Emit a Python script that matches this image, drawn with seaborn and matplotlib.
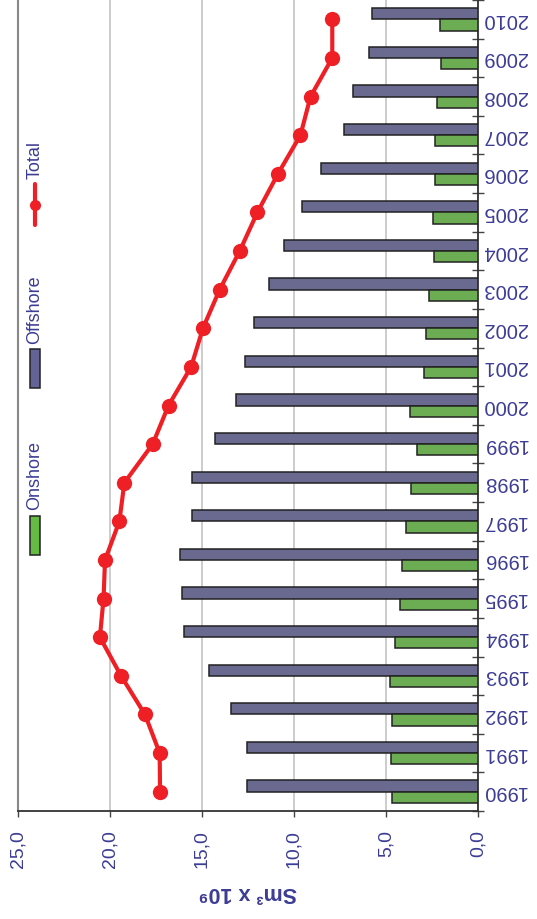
import numpy as np
import pandas as pd
import matplotlib
matplotlib.use("Agg")
import matplotlib.pyplot as plt
from matplotlib.patches import Rectangle
from matplotlib.lines import Line2D
import seaborn as sns

# Gas production per year (Sm3 x 10^9)
years = [str(y) for y in range(1990, 2011)]
onshore = [4.69, 4.73, 4.67, 4.78, 4.53, 4.26, 4.11, 3.94, 3.65, 3.33, 3.69,
           2.94, 2.82, 2.69, 2.38, 2.42, 2.33, 2.36, 2.23, 2.00, 2.09]
offshore = [12.54, 12.57, 13.40, 14.60, 16.00, 16.10, 16.19, 15.57, 15.55, 14.32, 13.13,
            12.64, 12.17, 11.36, 10.56, 9.57, 8.52, 7.29, 6.81, 5.91, 5.78]
total = [17.28, 17.30, 18.10, 19.40, 20.55, 20.35, 20.27, 19.49, 19.22, 17.68, 16.82,
         15.59, 14.95, 14.04, 12.95, 11.99, 10.87, 9.65, 9.10, 7.92, 7.92]
value_ticks = [0, 5, 10, 15, 20, 25]

text_col = '#3c3c96'
green = '#66bb44'
purple = '#636398'
red = '#ee2026'

sns.set_style('white')
plt.rcParams['font.family'] = ['Liberation Sans', 'DejaVu Sans']

df = pd.DataFrame({
    'year': years * 2,
    'value': onshore + offshore,
    'type': ['Onshore'] * len(years) + ['Offshore'] * len(years),
})

fig = plt.figure(figsize=(5.37, 9.19), dpi=100)
W, H = 537, 919
ax = fig.add_axes([18 / W, (H - 811) / H, (478 - 18) / W, 811 / H])

order = years[::-1]
sns.barplot(data=df, y='year', x='value', hue='type', order=order,
            hue_order=['Offshore', 'Onshore'],
            palette={'Offshore': purple, 'Onshore': green},
            orient='h', width=0.58, errorbar=None, legend=False,
            edgecolor='#222222', linewidth=1.1, zorder=3, ax=ax)

pos = [order.index(y) for y in years]
ax.plot(total, pos, color=red, lw=3, marker='o', markersize=11,
        markeredgewidth=0, zorder=5)

ax.set_xlim(25, 0)
ax.set_ylim(len(years) - 0.5, -0.5)
ax.set_xticks(value_ticks)
ax.set_xticklabels([f'{v:.1f}'.replace('.', ',') for v in value_ticks])
ax.xaxis.grid(True, color='#c4c4c4', lw=1.2, zorder=0)
ax.set_axisbelow(True)

ax.yaxis.tick_right()
ax.set_yticks(np.arange(-0.5, len(years), 1), minor=True)
ax.tick_params(axis='y', which='major', length=0, pad=3, labelsize=14.5,
               labelcolor=text_col, labelrotation=180)
for t in ax.get_yticklabels():
    t.set_va('center')
ax.tick_params(axis='y', which='minor', direction='inout', length=9, width=1,
               color='#444444', right=True, left=False)
ax.tick_params(axis='x', which='major', direction='out', length=4.5, width=1,
               color='#444444', bottom=True, pad=9, labelsize=14,
               labelcolor=text_col, labelrotation=90)
ax.set_ylabel('')
ax.set_xlabel('Sm³ x 10⁹', fontsize=15.5, fontweight='bold', color=text_col,
              rotation=180, labelpad=10)

for side in ['right', 'bottom']:
    ax.spines[side].set_color('#333333')
    ax.spines[side].set_linewidth(1.3)
ax.spines['left'].set_color('#888888')
ax.spines['left'].set_linewidth(1.5)
ax.spines['top'].set_visible(False)

# legend, drawn by hand so the entries can be rotated like the chart
lax = fig.add_axes([8 / W, (H - 605) / H, 44 / W, 512 / H])
lax.set_xlim(8, 52)
lax.set_ylim(605, 93)
lax.set_facecolor('white')
lax.axis('off')
lax.patch.set_visible(True)
lax.add_patch(Rectangle((30, 516), 10, 39, facecolor=green, edgecolor='#222222', lw=1.1))
lax.add_patch(Rectangle((30, 349), 10, 39, facecolor=purple, edgecolor='#222222', lw=1.1))
lax.add_line(Line2D([35, 35], [184, 225], color=red, lw=3))
lax.plot([35], [205], 'o', color=red, markersize=8, markeredgewidth=0)
for label, yc in [('Onshore', 476), ('Offshore', 310), ('Total', 160)]:
    lax.text(35, yc, label, rotation=90, ha='center', va='center',
             fontsize=13, color=text_col)

fig.savefig('out.png', dpi=100)
